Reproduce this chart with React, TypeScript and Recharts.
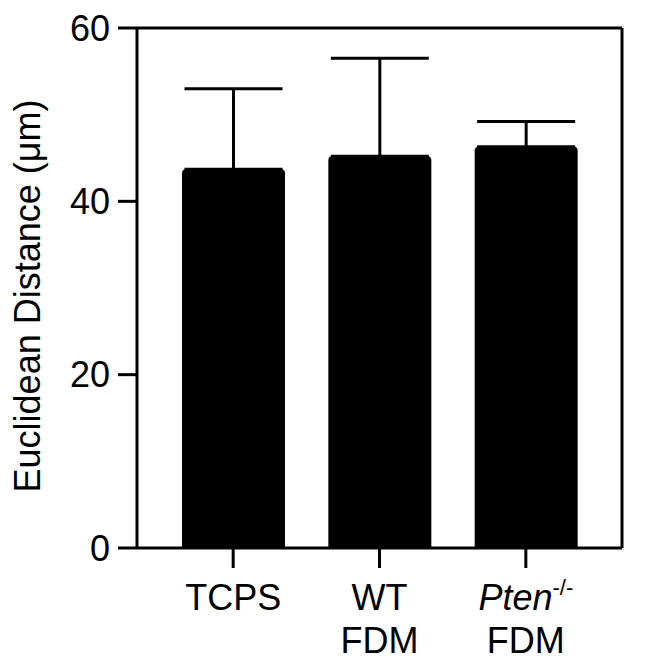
import { Bar, BarChart, XAxis, YAxis, ErrorBar } from "recharts";

const groups: string[] = ["TCPS", "WT FDM", "Pten FDM"];
const meanDistance: number[] = [43.7, 45.2, 46.3];
const errorUp: number[] = [9.3, 11.3, 2.9];
const yTicks: number[] = [0, 20, 40, 60];

const data = groups.map((g, i) => ({
	group: g,
	mean: meanDistance[i],
	err: [0, errorUp[i]],
}));

const FONT = "'Liberation Sans', Arial, Helvetica, sans-serif";

function GroupTick(props: any) {
	const { x, y, payload } = props;
	const name: string = payload.value;
	const base = y + 40;
	if (name === "TCPS") {
		return (
			<text x={x} y={base} textAnchor="middle" fontSize={36} fontFamily={FONT} fill="#000">
				TCPS
			</text>
		);
	}
	if (name === "WT FDM") {
		return (
			<text textAnchor="middle" fontSize={36} fontFamily={FONT} fill="#000">
				<tspan x={x} y={base}>WT</tspan>
				<tspan x={x} y={base + 43}>FDM</tspan>
			</text>
		);
	}
	return (
		<g>
			<text x={x} y={base} textAnchor="middle" fontSize={36} fontFamily={FONT} fill="#000">
				<tspan fontStyle="italic">Pten</tspan>
				<tspan fontSize={22} dy={-15}>-/-</tspan>
			</text>
			<text x={x} y={base + 43} textAnchor="middle" fontSize={36} fontFamily={FONT} fill="#000">
				FDM
			</text>
		</g>
	);
}

function YTitle(props: any) {
	const { viewBox } = props;
	const cx = 40;
	const cy = viewBox.y + viewBox.height / 2 + 8;
	return (
		<text
			x={cx}
			y={cy}
			transform={`rotate(-90, ${cx}, ${cy})`}
			textAnchor="middle"
			fontSize={36}
			fontFamily={FONT}
			fill="#000"
		>
			Euclidean Distance (μm)
		</text>
	);
}

export default function App() {
	return (
		<div style={{ position: "absolute", left: 0, top: 0, width: 671, height: 666, background: "#fff" }}>
			<BarChart
				width={671}
				height={666}
				data={data}
				margin={{ top: 27, right: 48, bottom: 0, left: 0 }}
				barSize={103}
			>
				<XAxis
					dataKey="group"
					xAxisId="bottom"
					height={118}
					padding={{ left: 23, right: 23 }}
					axisLine={{ stroke: "#000", strokeWidth: 3 }}
					tickLine={{ stroke: "#000", strokeWidth: 3 }}
					tickSize={20}
					tick={<GroupTick />}
					interval={0}
				/>
				<XAxis
					dataKey="group"
					xAxisId="top"
					orientation="top"
					height={1}
					axisLine={{ stroke: "#000", strokeWidth: 3 }}
					tick={false}
					tickLine={false}
				/>
				<YAxis
					yAxisId="left"
					width={137}
					domain={[0, 60]}
					ticks={yTicks}
					axisLine={{ stroke: "#000", strokeWidth: 3 }}
					tickLine={{ stroke: "#000", strokeWidth: 3 }}
					tickSize={19}
					tickMargin={8}
					tick={{ fill: "#000", fontSize: 36, fontFamily: FONT }}
					label={<YTitle />}
				/>
				<YAxis
					yAxisId="right"
					orientation="right"
					width={1}
					domain={[0, 60]}
					axisLine={{ stroke: "#000", strokeWidth: 3 }}
					tick={false}
					tickLine={false}
				/>
				<Bar
					dataKey="mean"
					xAxisId="bottom"
					yAxisId="left"
					fill="#000"
					radius={[4, 4, 0, 0]}
					isAnimationActive={false}
				>
					<ErrorBar dataKey="err" width={49} stroke="#000" strokeWidth={3} direction="y" />
				</Bar>
			</BarChart>
		</div>
	);
}
